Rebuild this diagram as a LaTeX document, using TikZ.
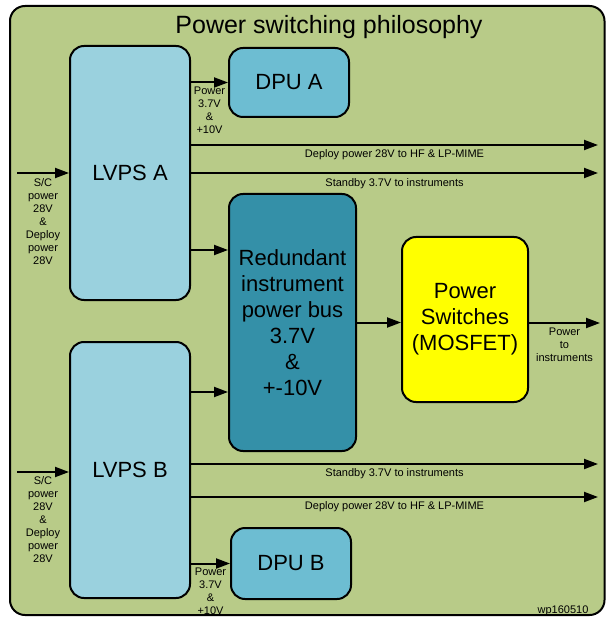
\documentclass[tikz,border=0pt]{standalone}
\usepackage{fontspec}
\setmainfont{Liberation Sans}
\usetikzlibrary{arrows.meta}
\definecolor{panelgreen}{RGB}{184,203,136}
\definecolor{lvpsblue}{RGB}{154,209,222}
\definecolor{dpublue}{RGB}{109,189,210}
\definecolor{busteal}{RGB}{52,144,168}
\definecolor{switchyellow}{RGB}{255,255,0}
\begin{document}
\begin{tikzpicture}[x=1pt, y=-1pt,
            box/.style={draw, line width=2pt, rounded corners=14pt, inner sep=0pt,
                align=center, font=\fontsize{22}{26}\selectfont},
            feed/.style={-{Triangle[length=14pt,width=10pt]}, line width=2pt},
            lab/.style={inner sep=0pt, align=center, font=\fontsize{11}{13}\selectfont}]

            % page and panel
            \fill [white] (0,0) rectangle (606,617);
            \useasboundingbox (0,0) rectangle (606,617);
            \draw [line width=2pt, fill=panelgreen, rounded corners=15pt]
                (10,6) rectangle (604.5,615);

            \node [anchor=base, font=\fontsize{25}{30}\selectfont] (title) at (329,34)
                {Power switching philosophy};
            \node [lab, anchor=base] (ref) at (563,613) {wp160510};

            % blocks
            \node [box, fill=lvpsblue, minimum width=120, minimum height=254] (lvpsA) at (130,173) {LVPS A};
            \node [box, fill=lvpsblue, minimum width=120, minimum height=256] (lvpsB) at (130,470) {LVPS B};
            \node [box, fill=dpublue, minimum width=120, minimum height=69] (dpuA) at (289,82.5) {DPU A};
            \node [box, fill=dpublue, minimum width=120, minimum height=71] (dpuB) at (291,563.5) {DPU B};
            \node [box, fill=busteal, minimum width=127, minimum height=257] (bus) at (292.5,322.5)
                {Redundant\\instrument\\power bus\\3.7V\\\&\\+-10V};
            \node [box, fill=switchyellow, minimum width=126, minimum height=165] (switches) at (465,319.5)
                {Power\\Switches\\(MOSFET)};

            % free ends of the feeds
            \coordinate (inA) at (17,173);
            \coordinate (inB) at (17,472);
            \coordinate (deployA) at (598,145);
            \coordinate (standbyA) at (598,173);
            \coordinate (standbyB) at (598,464);
            \coordinate (deployB) at (598,497);
            \coordinate (outP) at (600,323);
            \coordinate (busA) at (0,250);
            \coordinate (busB) at (0,392);

            % side A
            \draw [feed] (inA) -- (lvpsA.west)
                node [midway, below=4.5pt, lab] {S/C\\power\\28V\\\&\\Deploy\\power\\28V};
            \draw [feed] (lvpsA.east |- dpuA.west) -- (dpuA.west)
                node [midway, below=3.5pt, lab] {Power\\3.7V\\\&\\+10V};
            \draw [feed] (lvpsA.east |- deployA) -- (deployA)
                node [midway, below=4pt, lab] {Deploy power 28V to HF \& LP-MIME};
            \draw [feed] (lvpsA.east) -- (standbyA)
                node [midway, below=4.5pt, lab] {Standby 3.7V to instruments};
            \draw [feed] (lvpsA.east |- busA) -- (bus.west |- busA);

            % side B
            \draw [feed] (inB) -- (inB -| lvpsB.west)
                node [midway, below=4pt, lab] {S/C\\power\\28V\\\&\\Deploy\\power\\28V};
            \draw [feed] (lvpsB.east |- busB) -- (bus.west |- busB);
            \draw [feed] (lvpsB.east |- standbyB) -- (standbyB)
                node [midway, below=4pt, lab] {Standby 3.7V to instruments};
            \draw [feed] (lvpsB.east |- deployB) -- (deployB)
                node [midway, below=4pt, lab] {Deploy power 28V to HF \& LP-MIME};
            \draw [feed] (lvpsB.east |- dpuB.west) -- (dpuB.west)
                node [midway, below=3.5pt, lab] {Power\\3.7V\\\&\\+10V};

            % bus to switches to instruments
            \draw [feed] (bus.east) -- (bus.east -| switches.west);
            \draw [feed] (switches.east |- outP) -- (outP)
                node [midway, below=4pt, lab] {Power\\to\\instruments};

        \end{tikzpicture}
\end{document}
